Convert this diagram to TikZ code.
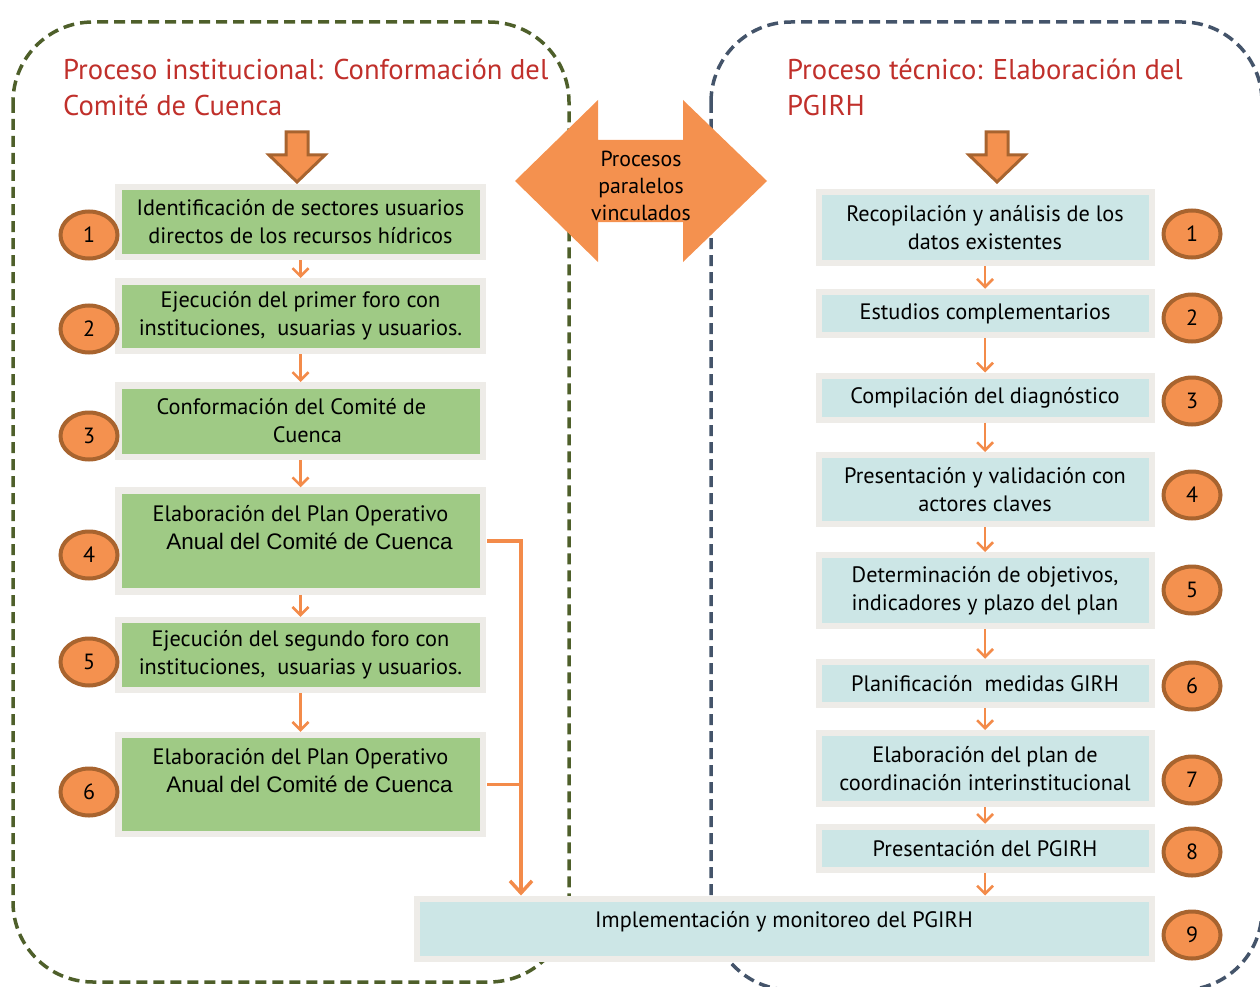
\documentclass[tikz,border=0pt]{standalone}
\usepackage{fontspec}
\setmainfont{PT Sans}
\newfontfamily\arialf{Liberation Sans}
\usetikzlibrary{arrows.meta,shapes.geometric}
\definecolor{orfill}{HTML}{F4914F}
\definecolor{brownline}{HTML}{A8642F}
\definecolor{orline}{HTML}{F38B4A}
\definecolor{boxgreen}{HTML}{9FCA85}
\definecolor{boxblue}{HTML}{CCE6E6}
\definecolor{framegray}{HTML}{EEECE8}
\definecolor{titlered}{HTML}{C0302B}
\definecolor{olive}{HTML}{4E5F2A}
\definecolor{slate}{HTML}{44546A}
\begin{document}
\begin{tikzpicture}[x=1pt,y=-1pt,
  gbox/.style={draw=framegray, line width=6.5pt, fill=boxgreen, minimum width=364.5pt, align=center, inner sep=0pt, font=\fontsize{22.3}{28}\selectfont},
  bbox/.style={draw=framegray, line width=6pt, fill=boxblue, minimum width=333pt, align=center, inner sep=0pt, font=\fontsize{22.3}{28}\selectfont},
  num/.style={ellipse, fill=orfill, draw=brownline, line width=4pt, minimum width=57pt, minimum height=47pt, inner sep=0pt, font=\fontsize{22}{24}\selectfont},
  sarrow/.style={draw=orline, line width=2.5pt, -{Straight Barb[length=8pt,width=16pt]}},
  conn/.style={draw=orline, line width=3.5pt},
  connarrow/.style={conn, -{Straight Barb[length=12pt,width=22pt]}},
  blockarrow/.style={fill=orfill, draw=brownline, line width=3pt, line join=miter},
  dashbox/.style={line width=3.5pt, dash pattern=on 11pt off 6pt, rounded corners=80pt},
  title/.style={text=titlered, anchor=base west, inner sep=0pt, font=\fontsize{28.6}{36}\selectfont}
]
\useasboundingbox (0,0) rectangle (1260,987);
\begin{scope}
\clip (0,0) rectangle (1260,987);
% dashed frames
\draw[dashbox, draw=olive] (13,22) rectangle (569,982);
\draw[dashbox, draw=slate] (711,22) rectangle (1262,990);
\end{scope}

% titles
\node[title] (t1a) at (63,80) {Proceso institucional: Conformación del};
\node[title] (t1b) at (63,116) {Comité de Cuenca};
\node[title] (t2a) at (787,80) {Proceso técnico: Elaboración del};
\node[title] (t2b) at (787,116) {PGIRH};

% block arrows
\draw[blockarrow] (286,132) -- (308,132) -- (308,155) -- (325,155) -- (297,182) -- (269,155) -- (286,155) -- cycle;
\draw[blockarrow] (986,132) -- (1008,132) -- (1008,155) -- (1025,155) -- (997,182) -- (969,155) -- (986,155) -- cycle;

% double arrow
\fill[orfill] (515,181) -- (598,100) -- (598,140) -- (683,140) -- (683,100) -- (767,181) -- (683,262) -- (683,222) -- (598,222) -- (598,262) -- cycle;
\node[align=center, font=\fontsize{21.8}{27}\selectfont, inner sep=0pt] (par) at (641,186) {Procesos\\paralelos\\vinculados};

% left boxes
\node[gbox, minimum height=70pt] (b1) at (300.5,222) {Identificación de sectores usuarios\\directos de los recursos hídricos};
\node[gbox, minimum height=69.5pt] (b2) at (300.5,316) {Ejecución del primer foro con\\instituciones,\ \ usuarias y usuarios.};
\node[gbox, minimum height=71.5pt] (b3) at (300.5,421) {Conformación del Comité de\hspace*{18pt}\\\hspace*{14pt}Cuenca};
\node[gbox, minimum height=101pt] (b4) at (300.5,541) {Elaboración del Plan Operativo\\\hspace*{18pt}{\arialf\fontsize{22.5}{28}\selectfont Anual del Comité de Cuenca}\\\mbox{}};
\node[gbox, minimum height=70pt] (b5) at (300.5,655) {Ejecución del segundo foro con\\instituciones,\ \ usuarias y usuarios.};
\node[gbox, minimum height=99pt] (b6) at (300.5,784.5) {Elaboración del Plan Operativo\\\hspace*{18pt}{\arialf\fontsize{22.5}{28}\selectfont Anual del Comité de Cuenca}\\\mbox{}};

% left numbers
\node[num] (n1) at (89,235) {1};
\node[num] (n2) at (89,329) {2};
\node[num] (n3) at (89,436) {3};
\node[num] (n4) at (89,555) {4};
\node[num] (n5) at (89,662) {5};
\node[num] (n6) at (89,792) {6};

% right boxes
\node[bbox, minimum height=71pt] (r1) at (985,227.5) {Recopilación y análisis de los\\datos existentes};
\node[bbox, minimum height=43.5pt] (r2) at (985,313.5) {Estudios complementarios};
\node[bbox, minimum height=44pt] (r3) at (985,397.5) {Compilación del diagnóstico};
\node[bbox, minimum height=69pt] (r4) at (985,489.5) {Presentación y validación con\\actores claves};
\node[bbox, minimum height=71pt] (r5) at (985,590.5) {Determinación de objetivos,\\indicadores y plazo del plan};
\node[bbox, minimum height=43.5pt] (r6) at (985,683.5) {Planificación\ \ medidas GIRH};
\node[bbox, minimum height=71pt] (r7) at (985,768.5) {Elaboración del plan de\\coordinación interinstitucional};
\node[bbox, minimum height=43.5pt] (r8) at (985,848.5) {Presentación del PGIRH};
\node[bbox, minimum height=60pt, minimum width=735pt] (impl) at (784,928.5) {};
\node[font=\fontsize{22.3}{28}\selectfont, inner sep=0pt] (impltext) at (784,922) {Implementación y monitoreo del PGIRH};

% right numbers
\node[num] (m1) at (1192,234) {1};
\node[num] (m2) at (1192,318) {2};
\node[num] (m3) at (1192,401) {3};
\node[num] (m4) at (1192,495) {4};
\node[num] (m5) at (1192,590) {5};
\node[num] (m6) at (1192,686) {6};
\node[num] (m7) at (1192,780) {7};
\node[num] (m8) at (1192,852) {8};
\node[num] (m9) at (1192,935) {9};

% left arrows
\draw[sarrow] (b1.south) -- (b2.north);
\draw[sarrow] (b2.south) -- (b3.north);
\draw[sarrow] (b3.south) -- (b4.north);
\draw[sarrow] (b4.south) -- (b5.north);
\draw[sarrow] (b5.south) -- (b6.north);

% right arrows
\draw[sarrow] (r1.south) -- (r2.north);
\draw[sarrow] (r2.south) -- (r3.north);
\draw[sarrow] (r3.south) -- (r4.north);
\draw[sarrow] (r4.south) -- (r5.north);
\draw[sarrow] (r5.south) -- (r6.north);
\draw[sarrow] (r6.south) -- (r7.north);
\draw[sarrow] (r7.south) -- (r8.north);
\draw[sarrow] (r8.south) -- (r8.south |- impl.north);

% connector to implementation
\coordinate (jn) at (521,541);
\draw[connarrow] ([xshift=1pt]b4.east) -- (jn) -- (jn |- impl.north);
\draw[conn] ([xshift=1pt]b6.east) -- (b6.east -| jn);
\end{tikzpicture}
\end{document}
